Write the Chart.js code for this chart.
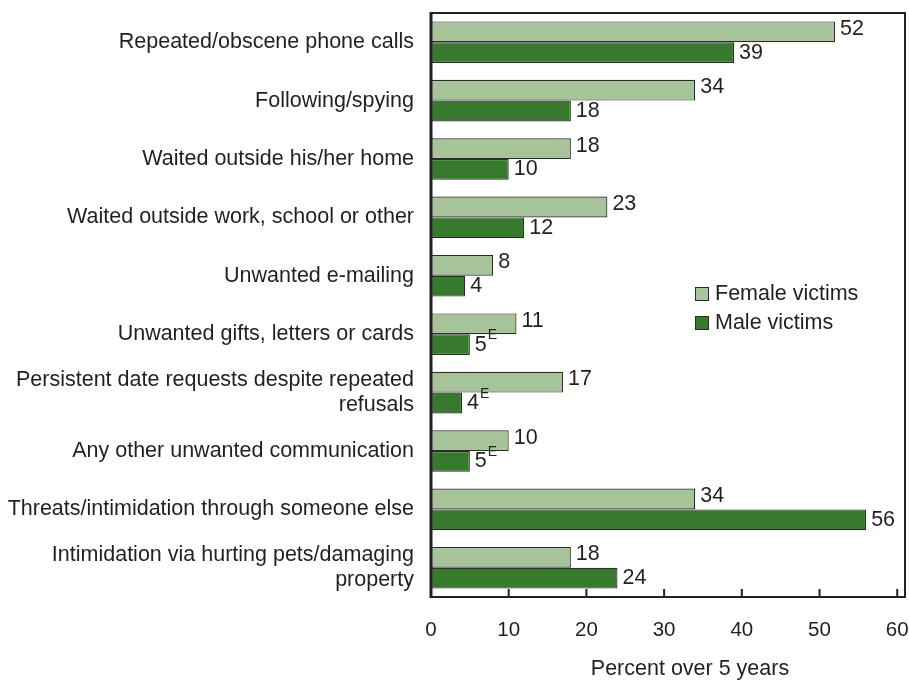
<!DOCTYPE html>
<html>
<head>
<meta charset="utf-8">
<script src="https://cdn.jsdelivr.net/npm/chart.js@4.4.1/dist/chart.umd.min.js"></script>
<style>
html,body{margin:0;padding:0;background:#fff;}
#wrap{width:909px;height:681px;position:relative;}
</style>
</head>
<body>
<div id="wrap"><canvas id="c" width="909" height="681"></canvas></div>
<script>
const categories = [
  "Repeated/obscene phone calls",
  "Following/spying",
  "Waited outside his/her home",
  "Waited outside work, school or other",
  "Unwanted e-mailing",
  "Unwanted gifts, letters or cards",
  ["Persistent date requests despite repeated", "refusals"],
  "Any other unwanted communication",
  "Threats/intimidation through someone else",
  ["Intimidation via hurting pets/damaging", "property"]
];
const femaleValues = [52, 34, 18, 22.7, 8, 11, 17, 10, 34, 18];
const maleValues   = [39, 18, 10, 12, 4.4, 5, 4, 5, 56, 24];
const femaleFlags  = ["", "", "", "", "", "", "", "", "", ""];
const maleFlags    = ["", "", "", "", "", "E", "E", "E", "", ""];
const xTicks = [0, 10, 20, 30, 40, 50, 60];
const seriesNames = ["Female victims", "Male victims"];
const axisTitle = "Percent over 5 years";

const FONT = "'Liberation Sans', Arial, Helvetica, sans-serif";
const TXT = "#231f20";
const FEMALE = "#a6c39a";
const MALE = "#377a2d";
const EDGE = "#2b2b2b";

function zeroPad(scale) {
  scale.paddingTop = 0; scale.paddingBottom = 0;
  scale.paddingLeft = 0; scale.paddingRight = 0;
}

const overlay = {
  id: "overlay",
  afterDatasetsDraw(chart) {
    const ctx = chart.ctx;
    const a = chart.chartArea;
    const xs = chart.scales.x;
    ctx.save();
    ctx.strokeStyle = "#222";
    ctx.lineWidth = 2;
    ctx.strokeRect(a.left, a.top, a.right - a.left, a.bottom - a.top);
    ctx.lineWidth = 3;
    ctx.beginPath();
    ctx.moveTo(a.left, a.top - 1);
    ctx.lineTo(a.left, a.bottom + 1);
    ctx.stroke();
    ctx.lineWidth = 2;
    xTicks.forEach(v => {
      const px = xs.getPixelForValue(v);
      ctx.beginPath();
      ctx.moveTo(px, a.bottom);
      ctx.lineTo(px, a.bottom - 8);
      ctx.stroke();
    });
    const flagsList = [femaleFlags, maleFlags];
    chart.data.datasets.forEach((ds, di) => {
      const meta = chart.getDatasetMeta(di);
      meta.data.forEach((bar, i) => {
        const txt = String(Math.round(ds.data[i]));
        ctx.fillStyle = TXT;
        ctx.font = "21.5px " + FONT;
        ctx.textAlign = "left";
        ctx.textBaseline = "middle";
        const x = bar.x + 5;
        const y = bar.y - (di === 0 ? 3 : 0);
        ctx.fillText(txt, x, y);
        const f = flagsList[di][i];
        if (f) {
          const w = ctx.measureText(txt).width;
          ctx.font = "14px " + FONT;
          ctx.fillText(f, x + w + 1, y - 9);
        }
      });
    });
    const lx = 695, ly = [287, 316];
    [FEMALE, MALE].forEach((col, k) => {
      ctx.fillStyle = col;
      ctx.fillRect(lx, ly[k], 13, 13);
      ctx.strokeStyle = EDGE;
      ctx.lineWidth = 1;
      ctx.strokeRect(lx + 0.5, ly[k] + 0.5, 13, 13);
      ctx.fillStyle = TXT;
      ctx.font = "21.5px " + FONT;
      ctx.textAlign = "left";
      ctx.textBaseline = "middle";
      ctx.fillText(seriesNames[k], lx + 20, ly[k] + 7);
    });
    // axis title
    ctx.fillStyle = TXT;
    ctx.font = "21.5px " + FONT;
    ctx.textAlign = "center";
    ctx.textBaseline = "middle";
    ctx.fillText(axisTitle, 690, 669);
    ctx.restore();
  }
};

new Chart(document.getElementById("c"), {
  type: "bar",
  data: {
    labels: categories,
    datasets: [
      { label: seriesNames[0], data: femaleValues, backgroundColor: FEMALE, borderColor: EDGE, borderWidth: 1.2, borderSkipped: false },
      { label: seriesNames[1], data: maleValues, backgroundColor: MALE, borderColor: EDGE, borderWidth: 1.2, borderSkipped: false }
    ]
  },
  options: {
    indexAxis: "y",
    responsive: false,
    animation: false,
    devicePixelRatio: 1,
    categoryPercentage: 0.712,
    barPercentage: 1.0,
    layout: { padding: { top: 13, right: 4, bottom: 0, left: 0 } },
    plugins: { legend: { display: false }, tooltip: { enabled: false } },
    scales: {
      x: {
        type: "linear",
        min: 0,
        max: 61,
        afterBuildTicks(scale) { scale.ticks = xTicks.map(v => ({ value: v })); },
        afterFit(scale) { scale.height = 84; zeroPad(scale); },
        grid: { display: false, drawTicks: false },
        border: { display: false },
        ticks: { color: TXT, font: { family: FONT, size: 20.5 }, padding: 21, maxRotation: 0, autoSkip: false },
        title: { display: false }
      },
      y: {
        afterFit(scale) { scale.width = 431; zeroPad(scale); },
        grid: { display: false, drawTicks: false },
        border: { display: false },
        ticks: { color: TXT, font: { family: FONT, size: 21.5, lineHeight: 1.18 }, padding: 17, autoSkip: false }
      }
    }
  },
  plugins: [overlay]
});
</script>
</body>
</html>
